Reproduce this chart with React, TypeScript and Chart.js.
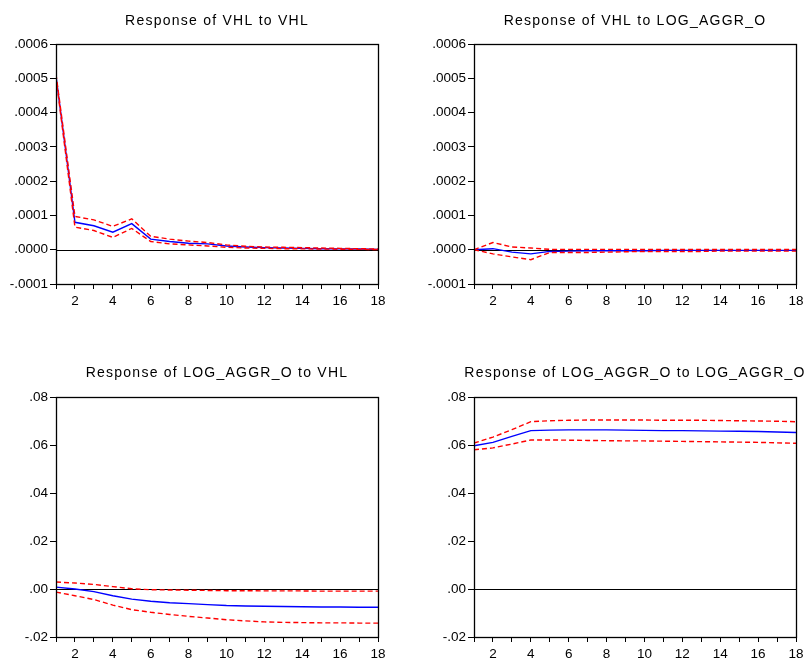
import React, { useEffect, useRef } from "react";
import { Chart, registerables } from "chart.js";

Chart.register(...registerables);

// ---------- data ----------
const periods = [1, 2, 3, 4, 5, 6, 7, 8, 9, 10, 11, 12, 13, 14, 15, 16, 17, 18];

const titles = [
  "Response of VHL to VHL",
  "Response of VHL to LOG_AGGR_O",
  "Response of LOG_AGGR_O to VHL",
  "Response of LOG_AGGR_O to LOG_AGGR_O",
];

const yTicksTop = [-0.0001, 0, 0.0001, 0.0002, 0.0003, 0.0004, 0.0005, 0.0006];
const yLabelsTop = ["-.0001", ".0000", ".0001", ".0002", ".0003", ".0004", ".0005", ".0006"];
const yTicksBottom = [-0.02, 0, 0.02, 0.04, 0.06, 0.08];
const yLabelsBottom = ["-.02", ".00", ".02", ".04", ".06", ".08"];

// Response of VHL to VHL
const vhlVhl = [0.000507, 0.00008, 0.00007, 0.000051, 0.000076, 0.000031, 0.000024, 0.000019, 0.000017, 0.000011, 0.000008, 0.000006, 0.000005, 0.000004, 0.000003, 0.0000025, 0.000002, 0.000001];
const vhlVhlUp = [0.000512, 0.000097, 0.000087, 0.000068, 0.00009, 0.000039, 0.000031, 0.000025, 0.000021, 0.000014, 0.00001, 0.000008, 0.000007, 0.000006, 0.000005, 0.000004, 0.000003, 0.000002];
const vhlVhlLo = [0.000502, 0.000066, 0.000056, 0.000036, 0.000062, 0.000024, 0.000017, 0.000014, 0.000011, 0.000007, 0.000005, 0.000004, 0.000003, 0.0000025, 0.000002, 0.0000015, 0.000001, 0.0000005];

// Response of VHL to LOG_AGGR_O
const vhlAggr = [0, 0.000003, -0.000007, -0.000012, -0.000005, -0.000004, -0.000003, -0.000003, -0.000003, -0.000003, -0.000002, -0.000002, -0.000002, -0.000002, -0.000002, -0.000002, -0.000002, -0.000002];
const vhlAggrUp = [0, 0.000021, 0.000008, 0.000005, 0.000001, 0.000001, 0.000001, 0.000001, 0.000001, 0.000001, 0.000001, 0.000001, 0.000001, 0.000001, 0.000001, 0.000001, 0.000001, 0.000001];
const vhlAggrLo = [0, -0.000012, -0.000021, -0.000029, -0.000008, -0.000008, -0.000008, -0.000007, -0.000006, -0.000005, -0.000005, -0.000005, -0.000005, -0.000004, -0.000004, -0.000004, -0.000004, -0.000004];

// Response of LOG_AGGR_O to VHL
const aggrVhl = [0.0008, 0, -0.0011, -0.0028, -0.0042, -0.0051, -0.0057, -0.0061, -0.0065, -0.0069, -0.0071, -0.0072, -0.0073, -0.0074, -0.0075, -0.0075, -0.0076, -0.0076];
const aggrVhlUp = [0.0029, 0.0025, 0.0019, 0.001, 0.0001, -0.0003, -0.0004, -0.0005, -0.0006, -0.0007, -0.0007, -0.0008, -0.0008, -0.0008, -0.0009, -0.0009, -0.0009, -0.0009];
const aggrVhlLo = [-0.0013, -0.0028, -0.0044, -0.0067, -0.0086, -0.0097, -0.0106, -0.0114, -0.0121, -0.0128, -0.0133, -0.0137, -0.0139, -0.014, -0.0141, -0.0141, -0.0142, -0.0142];

// Response of LOG_AGGR_O to LOG_AGGR_O
const aggrAggr = [0.0597, 0.0611, 0.0636, 0.066, 0.0662, 0.0663, 0.0663, 0.0663, 0.0662, 0.0661, 0.066, 0.066, 0.0659, 0.0658, 0.0657, 0.0656, 0.0654, 0.0652];
const aggrAggrUp = [0.0608, 0.0633, 0.0664, 0.0697, 0.0701, 0.0703, 0.0704, 0.0704, 0.0704, 0.0704, 0.0703, 0.0703, 0.0703, 0.0702, 0.0701, 0.07, 0.0699, 0.0697];
const aggrAggrLo = [0.058, 0.0588, 0.0604, 0.0621, 0.0621, 0.062, 0.0619, 0.0618, 0.0617, 0.0617, 0.0616, 0.0615, 0.0614, 0.0613, 0.0612, 0.0611, 0.0609, 0.0607];

// ---------- drawing ----------
const FONT = "Arial, 'Liberation Sans', sans-serif";
const CW = 404;
const CH = 330;

type PanelProps = {
  title: string;
  mid: number[];
  up: number[];
  lo: number[];
  yTicks: number[];
  yLabels: string[];
  left: number;
  right: number;
  top: number;
  bottom: number;
  titleY: number;
  posX: number;
  posY: number;
};

const toPts = (vals: number[]) => periods.map((p, i) => ({ x: p, y: vals[i] }));

function Panel(props: PanelProps) {
  const ref = useRef<HTMLCanvasElement | null>(null);
  useEffect(() => {
    const canvas = ref.current;
    if (!canvas) return;
    const framePlugin = {
      id: "frameAndTitle",
      beforeDatasetsDraw(chart: any) {
        const { ctx, chartArea } = chart;
        const y0 = Math.round(chart.scales.y.getPixelForValue(0)) + 0.5;
        ctx.save();
        ctx.strokeStyle = "#000";
        ctx.lineWidth = 1;
        ctx.beginPath();
        ctx.moveTo(chartArea.left, y0);
        ctx.lineTo(chartArea.right, y0);
        ctx.stroke();
        ctx.restore();
      },
      afterDraw(chart: any) {
        const { ctx, chartArea } = chart;
        ctx.save();
        ctx.strokeStyle = "#000";
        ctx.lineWidth = 1.3;
        ctx.strokeRect(
          Math.round(chartArea.left) + 0.5,
          Math.round(chartArea.top) + 0.5,
          Math.round(chartArea.right - chartArea.left),
          Math.round(chartArea.bottom - chartArea.top)
        );
        ctx.fillStyle = "#000";
        ctx.font = `14px ${FONT}`;
        try {
          (ctx as any).letterSpacing = "1.25px";
        } catch (e) {}
        ctx.textAlign = "center";
        ctx.textBaseline = "alphabetic";
        ctx.fillText(props.title, (chartArea.left + chartArea.right) / 2, props.titleY);
        ctx.restore();
      },
    };

    const chart = new Chart(canvas, {
      type: "line",
      data: {
        datasets: [
          {
            data: toPts(props.up),
            borderColor: "#ff0000",
            borderWidth: 1.4,
            borderDash: [5, 3],
            pointRadius: 0,
            fill: false,
            tension: 0,
          },
          {
            data: toPts(props.lo),
            borderColor: "#ff0000",
            borderWidth: 1.4,
            borderDash: [5, 3],
            pointRadius: 0,
            fill: false,
            tension: 0,
          },
          {
            data: toPts(props.mid),
            borderColor: "#0000ff",
            borderWidth: 1.4,
            pointRadius: 0,
            fill: false,
            tension: 0,
          },
        ],
      },
      options: {
        responsive: false,
        animation: false,
        devicePixelRatio: 1,
        layout: {
          padding: { left: 0, top: props.top, right: CW - props.right, bottom: 0 },
        },
        plugins: {
          legend: { display: false },
          tooltip: { enabled: false },
          title: { display: false },
        },
        scales: {
          x: {
            type: "linear",
            min: 1,
            max: 18,
            afterBuildTicks: (scale: any) => {
              scale.ticks = periods.map((p) => ({ value: p }));
            },
            afterFit: (scale: any) => {
              scale.height = CH - props.bottom;
            },
            ticks: {
              autoSkip: false,
              maxRotation: 0,
              color: "#000",
              padding: 4,
              font: { family: FONT, size: 13.5 },
              callback: (v: any) => (Number(v) % 2 === 0 ? String(v) : ""),
            },
            grid: {
              drawOnChartArea: false,
              drawTicks: true,
              tickLength: 5,
              color: "#000",
              tickColor: "#000",
            },
            border: { display: true, color: "#000" },
          },
          y: {
            type: "linear",
            min: props.yTicks[0],
            max: props.yTicks[props.yTicks.length - 1],
            afterBuildTicks: (scale: any) => {
              scale.ticks = props.yTicks.map((v) => ({ value: v }));
            },
            afterFit: (scale: any) => {
              scale.width = props.left;
            },
            ticks: {
              color: "#000",
              padding: 2,
              font: { family: FONT, size: 13.5 },
              callback: (_v: any, i: number) => props.yLabels[i],
            },
            grid: {
              drawOnChartArea: false,
              drawTicks: true,
              tickLength: 6,
              color: "#000",
              tickColor: "#000",
            },
            border: { display: true, color: "#000" },
          },
        },
      },
      plugins: [framePlugin],
    } as any);
    return () => chart.destroy();
  }, []);

  return (
    <canvas
      ref={ref}
      width={CW}
      height={CH}
      style={{ position: "absolute", left: props.posX, top: props.posY, width: CW, height: CH }}
    />
  );
}

export default function App() {
  return (
    <div style={{ position: "absolute", left: 0, top: 0, width: 808, height: 660, background: "#fff", overflow: "hidden" }}>
      <Panel title={titles[0]} mid={vhlVhl} up={vhlVhlUp} lo={vhlVhlLo} yTicks={yTicksTop} yLabels={yLabelsTop}
        left={56} right={378} top={44} bottom={284} titleY={25} posX={0} posY={0} />
      <Panel title={titles[1]} mid={vhlAggr} up={vhlAggrUp} lo={vhlAggrLo} yTicks={yTicksTop} yLabels={yLabelsTop}
        left={70} right={392} top={44} bottom={284} titleY={25} posX={404} posY={0} />
      <Panel title={titles[2]} mid={aggrVhl} up={aggrVhlUp} lo={aggrVhlLo} yTicks={yTicksBottom} yLabels={yLabelsBottom}
        left={56} right={378} top={67} bottom={307} titleY={47} posX={0} posY={330} />
      <Panel title={titles[3]} mid={aggrAggr} up={aggrAggrUp} lo={aggrAggrLo} yTicks={yTicksBottom} yLabels={yLabelsBottom}
        left={70} right={392} top={67} bottom={307} titleY={47} posX={404} posY={330} />
    </div>
  );
}
